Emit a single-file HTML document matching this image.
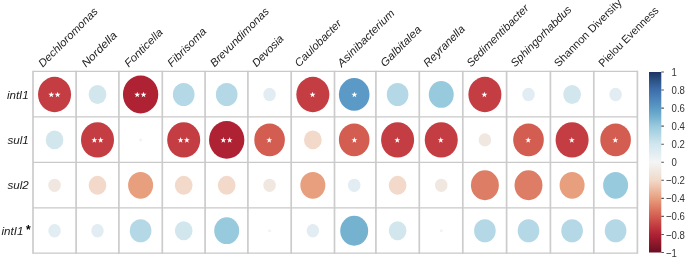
<!DOCTYPE html>
<html><head><meta charset="utf-8"><style>
html,body{margin:0;padding:0;background:#fff;}
svg{display:block;will-change:transform;filter:blur(0.3px);}
text{font-family:"Liberation Sans",sans-serif;}
</style></head><body>
<svg width="685" height="257" viewBox="0 0 685 257">
<rect width="685" height="257" fill="#fff"/>

<ellipse cx="54.55" cy="94.48" rx="16.52" ry="17.68" fill="#C43D42"/>
<ellipse cx="97.50" cy="94.48" rx="8.83" ry="9.45" fill="#D2E6ED"/>
<ellipse cx="140.60" cy="94.48" rx="17.66" ry="18.90" fill="#AF2233"/>
<ellipse cx="183.70" cy="94.48" rx="10.82" ry="11.57" fill="#B4D8E6"/>
<ellipse cx="226.70" cy="94.48" rx="10.82" ry="11.57" fill="#B4D8E6"/>
<ellipse cx="269.55" cy="94.48" rx="6.25" ry="6.68" fill="#E1EDF3"/>
<ellipse cx="312.85" cy="94.48" rx="16.52" ry="17.68" fill="#C43D42"/>
<ellipse cx="354.20" cy="94.48" rx="15.30" ry="16.37" fill="#5B9AC6"/>
<ellipse cx="397.60" cy="94.48" rx="10.82" ry="11.57" fill="#B4D8E6"/>
<ellipse cx="441.25" cy="94.48" rx="12.49" ry="13.37" fill="#98CADE"/>
<ellipse cx="484.90" cy="94.48" rx="16.52" ry="17.68" fill="#C43D42"/>
<ellipse cx="528.50" cy="94.48" rx="6.25" ry="6.68" fill="#E1EDF3"/>
<ellipse cx="572.10" cy="94.48" rx="8.83" ry="9.45" fill="#D2E6ED"/>
<ellipse cx="615.60" cy="94.48" rx="6.25" ry="6.68" fill="#E1EDF3"/>
<ellipse cx="54.55" cy="139.88" rx="8.83" ry="9.45" fill="#D2E6ED"/>
<ellipse cx="97.50" cy="139.88" rx="16.52" ry="17.68" fill="#C43D42"/>
<ellipse cx="140.60" cy="139.88" rx="1.50" ry="1.50" fill="#F3F3F3"/>
<ellipse cx="183.70" cy="139.88" rx="16.52" ry="17.68" fill="#C43D42"/>
<ellipse cx="226.70" cy="139.88" rx="17.66" ry="18.90" fill="#AF2233"/>
<ellipse cx="269.55" cy="139.88" rx="15.30" ry="16.37" fill="#D35D51"/>
<ellipse cx="312.85" cy="139.88" rx="8.83" ry="9.45" fill="#F2D9C9"/>
<ellipse cx="354.20" cy="139.88" rx="15.30" ry="16.37" fill="#D35D51"/>
<ellipse cx="397.60" cy="139.88" rx="16.52" ry="17.68" fill="#C43D42"/>
<ellipse cx="441.25" cy="139.88" rx="16.52" ry="17.68" fill="#C43D42"/>
<ellipse cx="484.90" cy="139.88" rx="6.25" ry="6.68" fill="#F0E7E0"/>
<ellipse cx="528.50" cy="139.88" rx="15.30" ry="16.37" fill="#D35D51"/>
<ellipse cx="572.10" cy="139.88" rx="16.52" ry="17.68" fill="#C43D42"/>
<ellipse cx="615.60" cy="139.88" rx="15.30" ry="16.37" fill="#D35D51"/>
<ellipse cx="54.55" cy="185.31" rx="6.25" ry="6.68" fill="#F0E7E0"/>
<ellipse cx="97.50" cy="185.31" rx="8.83" ry="9.45" fill="#F2D9C9"/>
<ellipse cx="140.60" cy="185.31" rx="12.49" ry="13.37" fill="#E89F7E"/>
<ellipse cx="183.70" cy="185.31" rx="8.83" ry="9.45" fill="#F2D9C9"/>
<ellipse cx="226.70" cy="185.31" rx="8.83" ry="9.45" fill="#F2D9C9"/>
<ellipse cx="269.55" cy="185.31" rx="6.25" ry="6.68" fill="#F0E7E0"/>
<ellipse cx="312.85" cy="185.31" rx="12.49" ry="13.37" fill="#E89F7E"/>
<ellipse cx="354.20" cy="185.31" rx="6.25" ry="6.68" fill="#E1EDF3"/>
<ellipse cx="397.60" cy="185.31" rx="8.83" ry="9.45" fill="#F2D9C9"/>
<ellipse cx="441.25" cy="185.31" rx="6.25" ry="6.68" fill="#F0E7E0"/>
<ellipse cx="484.90" cy="185.31" rx="13.97" ry="14.94" fill="#DE7D66"/>
<ellipse cx="528.50" cy="185.31" rx="13.97" ry="14.94" fill="#DE7D66"/>
<ellipse cx="572.10" cy="185.31" rx="12.49" ry="13.37" fill="#E89F7E"/>
<ellipse cx="615.60" cy="185.31" rx="12.49" ry="13.37" fill="#98CADE"/>
<ellipse cx="54.55" cy="230.73" rx="6.25" ry="6.68" fill="#E1EDF3"/>
<ellipse cx="97.50" cy="230.73" rx="6.25" ry="6.68" fill="#E1EDF3"/>
<ellipse cx="140.60" cy="230.73" rx="10.82" ry="11.57" fill="#B4D8E6"/>
<ellipse cx="183.70" cy="230.73" rx="8.83" ry="9.45" fill="#D2E6ED"/>
<ellipse cx="226.70" cy="230.73" rx="12.49" ry="13.37" fill="#98CADE"/>
<ellipse cx="269.55" cy="230.73" rx="1.50" ry="1.50" fill="#F3F3F3"/>
<ellipse cx="312.85" cy="230.73" rx="6.25" ry="6.68" fill="#E1EDF3"/>
<ellipse cx="354.20" cy="230.73" rx="13.97" ry="14.94" fill="#74B2CF"/>
<ellipse cx="397.60" cy="230.73" rx="8.83" ry="9.45" fill="#D2E6ED"/>
<ellipse cx="441.25" cy="230.73" rx="1.50" ry="1.50" fill="#F3F3F3"/>
<ellipse cx="484.90" cy="230.73" rx="10.82" ry="11.57" fill="#B4D8E6"/>
<ellipse cx="528.50" cy="230.73" rx="10.82" ry="11.57" fill="#B4D8E6"/>
<ellipse cx="572.10" cy="230.73" rx="10.82" ry="11.57" fill="#B4D8E6"/>
<ellipse cx="615.60" cy="230.73" rx="10.82" ry="11.57" fill="#B4D8E6"/>
<path d="M33.00 70.85V253.70M76.10 70.85V253.70M118.90 70.85V253.70M162.30 70.85V253.70M205.10 70.85V253.70M247.90 70.85V253.70M291.20 70.85V253.70M334.50 70.85V253.70M375.90 70.85V253.70M419.30 70.85V253.70M462.80 70.85V253.70M506.60 70.85V253.70M550.40 70.85V253.70M593.80 70.85V253.70M637.40 70.85V253.70" stroke="#cccccc" stroke-width="1.7" fill="none"/>
<path d="M33.00 71.45H637.40M33.00 116.90H637.40M33.00 162.25H637.40M33.00 207.76H637.40M33.00 253.10H637.40" stroke="#c9c9c9" stroke-width="1.25" fill="none"/>
<polygon points="51.30,91.68 52.03,93.76 54.25,93.82 52.49,95.16 53.12,97.28 51.30,96.03 49.48,97.28 50.11,95.16 48.35,93.82 50.57,93.76" fill="#fff"/>
<polygon points="57.60,91.68 58.33,93.76 60.55,93.82 58.79,95.16 59.42,97.28 57.60,96.03 55.78,97.28 56.41,95.16 54.65,93.82 56.87,93.76" fill="#fff"/>
<polygon points="137.25,91.68 137.98,93.76 140.20,93.82 138.44,95.16 139.07,97.28 137.25,96.03 135.43,97.28 136.06,95.16 134.30,93.82 136.52,93.76" fill="#fff"/>
<polygon points="143.55,91.68 144.28,93.76 146.50,93.82 144.74,95.16 145.37,97.28 143.55,96.03 141.73,97.28 142.36,95.16 140.60,93.82 142.82,93.76" fill="#fff"/>
<polygon points="312.55,91.68 313.28,93.76 315.50,93.82 313.74,95.16 314.37,97.28 312.55,96.03 310.73,97.28 311.36,95.16 309.60,93.82 311.82,93.76" fill="#fff"/>
<polygon points="354.40,91.68 355.13,93.76 357.35,93.82 355.59,95.16 356.22,97.28 354.40,96.03 352.58,97.28 353.21,95.16 351.45,93.82 353.67,93.76" fill="#fff"/>
<polygon points="484.40,91.68 485.13,93.76 487.35,93.82 485.59,95.16 486.22,97.28 484.40,96.03 482.58,97.28 483.21,95.16 481.45,93.82 483.67,93.76" fill="#fff"/>
<polygon points="94.35,137.07 95.08,139.16 97.30,139.22 95.54,140.56 96.17,142.68 94.35,141.42 92.53,142.68 93.16,140.56 91.40,139.22 93.62,139.16" fill="#fff"/>
<polygon points="100.65,137.07 101.38,139.16 103.60,139.22 101.84,140.56 102.47,142.68 100.65,141.42 98.83,142.68 99.46,140.56 97.70,139.22 99.92,139.16" fill="#fff"/>
<polygon points="180.55,137.07 181.28,139.16 183.50,139.22 181.74,140.56 182.37,142.68 180.55,141.42 178.73,142.68 179.36,140.56 177.60,139.22 179.82,139.16" fill="#fff"/>
<polygon points="186.85,137.07 187.58,139.16 189.80,139.22 188.04,140.56 188.67,142.68 186.85,141.42 185.03,142.68 185.66,140.56 183.90,139.22 186.12,139.16" fill="#fff"/>
<polygon points="223.35,137.07 224.08,139.16 226.30,139.22 224.54,140.56 225.17,142.68 223.35,141.42 221.53,142.68 222.16,140.56 220.40,139.22 222.62,139.16" fill="#fff"/>
<polygon points="229.65,137.07 230.38,139.16 232.60,139.22 230.84,140.56 231.47,142.68 229.65,141.42 227.83,142.68 228.46,140.56 226.70,139.22 228.92,139.16" fill="#fff"/>
<polygon points="269.25,137.07 269.98,139.16 272.20,139.22 270.44,140.56 271.07,142.68 269.25,141.42 267.43,142.68 268.06,140.56 266.30,139.22 268.52,139.16" fill="#fff"/>
<polygon points="354.40,137.07 355.13,139.16 357.35,139.22 355.59,140.56 356.22,142.68 354.40,141.42 352.58,142.68 353.21,140.56 351.45,139.22 353.67,139.16" fill="#fff"/>
<polygon points="397.30,137.07 398.03,139.16 400.25,139.22 398.49,140.56 399.12,142.68 397.30,141.42 395.48,142.68 396.11,140.56 394.35,139.22 396.57,139.16" fill="#fff"/>
<polygon points="440.75,137.07 441.48,139.16 443.70,139.22 441.94,140.56 442.57,142.68 440.75,141.42 438.93,142.68 439.56,140.56 437.80,139.22 440.02,139.16" fill="#fff"/>
<polygon points="528.20,137.07 528.93,139.16 531.15,139.22 529.39,140.56 530.02,142.68 528.20,141.42 526.38,142.68 527.01,140.56 525.25,139.22 527.47,139.16" fill="#fff"/>
<polygon points="571.80,137.07 572.53,139.16 574.75,139.22 572.99,140.56 573.62,142.68 571.80,141.42 569.98,142.68 570.61,140.56 568.85,139.22 571.07,139.16" fill="#fff"/>
<polygon points="615.30,137.07 616.03,139.16 618.25,139.22 616.49,140.56 617.12,142.68 615.30,141.42 613.48,142.68 614.11,140.56 612.35,139.22 614.57,139.16" fill="#fff"/>
<text x="42.80" y="67.8" font-size="11.0" font-style="italic" fill="#222" textLength="78.88" lengthAdjust="spacingAndGlyphs" transform="rotate(-45 42.80 67.8)">Dechloromonas</text>
<text x="85.90" y="67.8" font-size="11.0" font-style="italic" fill="#222" textLength="45.03" lengthAdjust="spacingAndGlyphs" transform="rotate(-45 85.90 67.8)">Nordella</text>
<text x="128.70" y="67.8" font-size="11.0" font-style="italic" fill="#222" textLength="49.45" lengthAdjust="spacingAndGlyphs" transform="rotate(-45 128.70 67.8)">Fonticella</text>
<text x="171.80" y="67.39999999999999" font-size="11.0" font-style="italic" fill="#222" textLength="49.88" lengthAdjust="spacingAndGlyphs" transform="rotate(-45 171.80 67.39999999999999)">Fibrisoma</text>
<text x="214.40" y="67.39999999999999" font-size="11.0" font-style="italic" fill="#222" textLength="78.23" lengthAdjust="spacingAndGlyphs" transform="rotate(-45 214.40 67.39999999999999)">Brevundimonas</text>
<text x="256.40" y="67.39999999999999" font-size="11.0" font-style="italic" fill="#222" textLength="39.67" lengthAdjust="spacingAndGlyphs" transform="rotate(-45 256.40 67.39999999999999)">Devosia</text>
<text x="298.90" y="67.39999999999999" font-size="11.0" font-style="italic" fill="#222" textLength="61.36" lengthAdjust="spacingAndGlyphs" transform="rotate(-45 298.90 67.39999999999999)">Caulobacter</text>
<text x="341.80" y="67.39999999999999" font-size="11.0" font-style="italic" fill="#222" textLength="75.53" lengthAdjust="spacingAndGlyphs" transform="rotate(-45 341.80 67.39999999999999)">Asinibacterium</text>
<text x="384.80" y="67.39999999999999" font-size="11.0" font-style="italic" fill="#222" textLength="52.68" lengthAdjust="spacingAndGlyphs" transform="rotate(-45 384.80 67.39999999999999)">Galbitalea</text>
<text x="427.80" y="67.39999999999999" font-size="11.0" font-style="italic" fill="#222" textLength="53.36" lengthAdjust="spacingAndGlyphs" transform="rotate(-45 427.80 67.39999999999999)">Reyranella</text>
<text x="470.90" y="67.39999999999999" font-size="11.0" font-style="italic" fill="#222" textLength="82.74" lengthAdjust="spacingAndGlyphs" transform="rotate(-45 470.90 67.39999999999999)">Sedimentibacter</text>
<text x="515.10" y="67.39999999999999" font-size="11.0" font-style="italic" fill="#222" textLength="80.83" lengthAdjust="spacingAndGlyphs" transform="rotate(-45 515.10 67.39999999999999)">Sphingorhabdus</text>
<text x="558.40" y="67.39999999999999" font-size="11.0" font-style="normal" fill="#222" textLength="90.61" lengthAdjust="spacingAndGlyphs" transform="rotate(-45 558.40 67.39999999999999)">Shannon Diversity</text>
<text x="603.00" y="67.39999999999999" font-size="11.0" font-style="normal" fill="#222" textLength="79.50" lengthAdjust="spacingAndGlyphs" transform="rotate(-45 603.00 67.39999999999999)">Pielou Evenness</text>
<text x="28.8" y="98.58" font-size="11.6" font-style="italic" fill="#1a1a1a" text-anchor="end">intI1</text>
<text x="28.8" y="143.97" font-size="11.6" font-style="italic" fill="#1a1a1a" text-anchor="end">sul1</text>
<text x="28.8" y="189.41" font-size="11.6" font-style="italic" fill="#1a1a1a" text-anchor="end">sul2</text>
<text x="23.4" y="234.83" font-size="11.6" font-style="italic" fill="#1a1a1a" text-anchor="end">intI1</text>
<text x="26.0" y="233.83" font-size="12.0" font-weight="bold" fill="#000">*</text>
<defs><linearGradient id="cb" x1="0" y1="0" x2="0" y2="1">
<stop offset="0.000" stop-color="#1A3563"/>
<stop offset="0.050" stop-color="#2C5488"/>
<stop offset="0.100" stop-color="#3D6EAB"/>
<stop offset="0.150" stop-color="#4C84B8"/>
<stop offset="0.200" stop-color="#5B9AC6"/>
<stop offset="0.250" stop-color="#74B2CF"/>
<stop offset="0.300" stop-color="#98CADE"/>
<stop offset="0.350" stop-color="#B4D8E6"/>
<stop offset="0.400" stop-color="#D2E6ED"/>
<stop offset="0.450" stop-color="#E1EDF3"/>
<stop offset="0.500" stop-color="#F5F5F5"/>
<stop offset="0.550" stop-color="#F0E7E0"/>
<stop offset="0.600" stop-color="#F2D9C9"/>
<stop offset="0.650" stop-color="#EDBCA4"/>
<stop offset="0.700" stop-color="#E89F7E"/>
<stop offset="0.750" stop-color="#DE7D66"/>
<stop offset="0.800" stop-color="#D35D51"/>
<stop offset="0.850" stop-color="#C43D42"/>
<stop offset="0.900" stop-color="#AF2233"/>
<stop offset="0.950" stop-color="#8D182B"/>
<stop offset="1.000" stop-color="#6A0E22"/>
</linearGradient></defs>
<rect x="649.0" y="72.0" width="12.30" height="180.50" fill="url(#cb)"/>
<text x="671.6" y="76.05" font-size="11.4" fill="#333" textLength="5.34" lengthAdjust="spacingAndGlyphs">1</text>
<text x="671.6" y="94.10" font-size="11.4" fill="#333" textLength="13.34" lengthAdjust="spacingAndGlyphs">0.8</text>
<text x="671.6" y="112.15" font-size="11.4" fill="#333" textLength="13.34" lengthAdjust="spacingAndGlyphs">0.6</text>
<text x="671.6" y="130.20" font-size="11.4" fill="#333" textLength="13.34" lengthAdjust="spacingAndGlyphs">0.4</text>
<text x="671.6" y="148.25" font-size="11.4" fill="#333" textLength="13.34" lengthAdjust="spacingAndGlyphs">0.2</text>
<text x="671.6" y="166.30" font-size="11.4" fill="#333" textLength="5.34" lengthAdjust="spacingAndGlyphs">0</text>
<text x="666.0" y="184.35" font-size="11.4" fill="#333" textLength="18.95" lengthAdjust="spacingAndGlyphs">−0.2</text>
<text x="666.0" y="202.40" font-size="11.4" fill="#333" textLength="18.95" lengthAdjust="spacingAndGlyphs">−0.4</text>
<text x="666.0" y="220.45" font-size="11.4" fill="#333" textLength="18.95" lengthAdjust="spacingAndGlyphs">−0.6</text>
<text x="666.0" y="238.50" font-size="11.4" fill="#333" textLength="18.95" lengthAdjust="spacingAndGlyphs">−0.8</text>
<text x="666.0" y="256.55" font-size="11.4" fill="#333" textLength="10.95" lengthAdjust="spacingAndGlyphs">−1</text>
<path d="M661.30 72.00H663.90M661.30 90.05H663.90M661.30 108.10H663.90M661.30 126.15H663.90M661.30 144.20H663.90M661.30 162.25H663.90M661.30 180.30H663.90M661.30 198.35H663.90M661.30 216.40H663.90M661.30 234.45H663.90M661.30 252.50H663.90" stroke="#555" stroke-width="1.1" fill="none"/>
</svg></body></html>
